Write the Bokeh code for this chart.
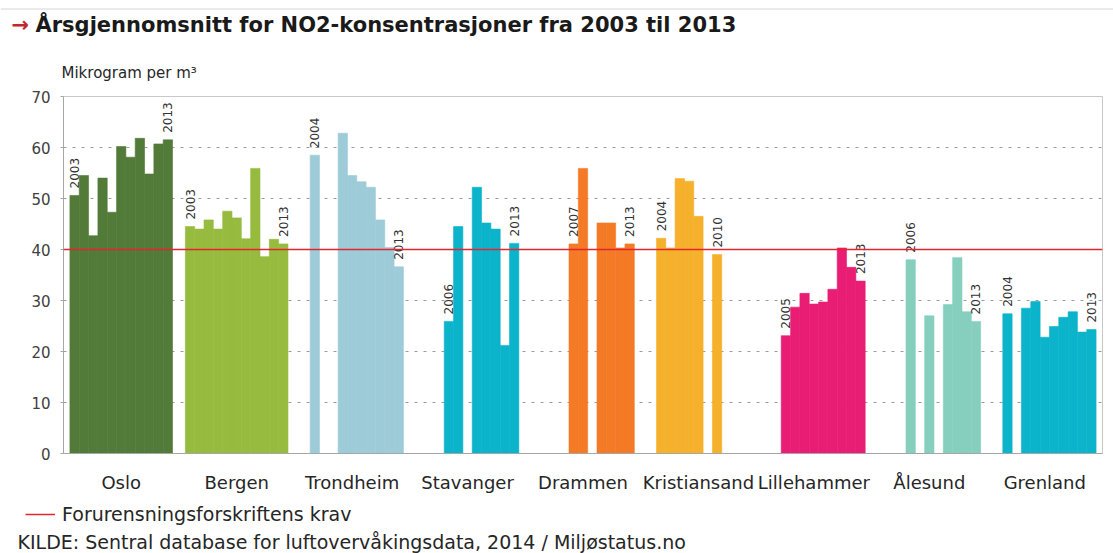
import math
from bokeh.plotting import figure
from bokeh.layouts import column
from bokeh.models import (FactorRange, Range1d, ColumnDataSource, Span,
                          Legend, LegendItem)
from bokeh.transform import dodge
from bokeh.core.properties import value
from bokeh.embed import file_html
from bokeh.resources import INLINE

# ---------------- data ----------------
cities = ["Oslo", "Bergen", "Trondheim", "Stavanger", "Drammen",
          "Kristiansand", "Lillehammer", "Ålesund", "Grenland"]
years = [2003, 2004, 2005, 2006, 2007, 2008, 2009, 2010, 2011, 2012, 2013]

oslo         = [50.6, 54.5, 42.7, 54.0, 47.3, 60.2, 58.1, 61.8, 54.8, 60.7, 61.5]
bergen       = [44.5, 44.0, 45.8, 44.0, 47.5, 46.2, 42.1, 55.9, 38.6, 42.0, 41.1]
trondheim    = [None, 58.5, None, None, 62.8, 54.5, 53.3, 52.2, 45.8, 40.4, 36.6]
stavanger    = [None, None, None, 25.9, 44.5, None, 52.2, 45.2, 44.0, 21.2, 41.2]
drammen      = [None, None, None, None, 41.1, 55.9, None, 45.2, 45.2, 40.3, 41.1]
kristiansand = [None, 42.2, 40.3, 53.9, 53.4, 46.5, None, 39.0, None, None, None]
lillehammer  = [None, None, 23.1, 28.7, 31.4, 29.3, 29.7, 32.2, 40.3, 36.5, 33.8]
alesund      = [None, None, None, 38.0, None, 27.0, None, 29.2, 38.4, 27.8, 25.9]
grenland     = [None, 27.4, None, 28.5, 29.8, 22.8, 24.9, 26.7, 27.8, 23.8, 24.3]

city_colors = ["#527a38", "#97bb3e", "#9ecbd8", "#0bb4cb", "#f47a26",
               "#f5b02c", "#e81d73", "#86cfbf", "#0bb4cb"]

limit_value = 40
y_ticks = [0, 10, 20, 30, 40, 50, 60, 70]

title_text = "Årsgjennomsnitt for NO2-konsentrasjoner fra 2003 til 2013"
unit_text = "Mikrogram per m³"
legend_text = "Forurensningsforskriftens krav"
source_text = "KILDE: Sentral database for luftovervåkingsdata, 2014 / Miljøstatus.no"

series = [oslo, bergen, trondheim, stavanger, drammen,
          kristiansand, lillehammer, alesund, grenland]

FONT = "DejaVu Sans"
RED = "#e3262d"
W = 1113


def no_align(f):
    if "frame_align" in f.properties():
        f.frame_align = False
    return f


def blank(height):
    f = figure(width=W, height=height, x_range=Range1d(0, W),
               y_range=Range1d(height, 0), x_axis_type=None, y_axis_type=None,
               min_border=0, output_backend="svg", toolbar_location=None,
               background_fill_color="white", border_fill_color="white")
    f.outline_line_color = None
    f.grid.grid_line_color = None
    return no_align(f)


# ---------------- header ----------------
head = blank(88)
head.segment(x0=[0], y0=[8.5], x1=[W], y1=[8.5], line_color="#d4d4d4", line_width=1)
head.text(x=[11], y=[24], text=["→"], text_font=value(FONT), text_font_style="bold",
          text_font_size="21px", text_color="#c1272d", text_baseline="middle")
head.text(x=[35], y=[24], text=[title_text], text_font=value(FONT),
          text_font_style="bold", text_font_size="21px", text_color="#1a1a1a",
          text_baseline="middle")
head.text(x=[61], y=[72], text=[unit_text], text_font=value(FONT),
          text_font_size="15px", text_color="#262626", text_baseline="middle")

# ---------------- main chart ----------------
p = figure(x_range=FactorRange(factors=cities, range_padding=0, factor_padding=0),
           y_range=Range1d(0, 70),
           frame_width=1039, frame_height=357,
           min_border_left=63, min_border_right=11,
           min_border_top=8, min_border_bottom=47,
           output_backend="svg", toolbar_location=None,
           background_fill_color="white", border_fill_color="white")
no_align(p)

slot = 0.0808

first_idx = [next(i for i, v in enumerate(s) if v is not None) for s in series]
last_idx = [max(i for i, v in enumerate(s) if v is not None) for s in series]

for j, yr in enumerate(years):
    xs, vals, cols, labs, lvals, lxs = [], [], [], [], [], []
    for c, s, col, fi, li in zip(cities, series, city_colors, first_idx, last_idx):
        v = s[j]
        if v is None:
            continue
        xs.append(c); vals.append(v); cols.append(col)
        if j == fi or j == li:
            labs.append(str(yr)); lvals.append(v); lxs.append(c)
    off = (j - 5) * slot
    if xs:
        src = ColumnDataSource(dict(city=xs, val=vals, color=cols))
        p.vbar(x=dodge("city", off, range=p.x_range), top="val", bottom=0,
               width=slot, fill_color="color", line_color="color",
               line_width=0.6, source=src)
    if labs:
        lsrc = ColumnDataSource(dict(city=lxs, val=lvals, label=labs))
        p.text(x=dodge("city", off, range=p.x_range), y="val", text="label",
               angle=math.pi / 2, text_align="left", text_baseline="middle",
               y_offset=-7, text_font=value(FONT), text_font_size="12px",
               text_color="#333333", source=lsrc)

p.add_layout(Span(location=limit_value, dimension="width",
                  line_color=RED, line_width=1.5))

p.outline_line_color = "#c8c8c8"
p.xgrid.grid_line_color = None
p.ygrid.grid_line_color = "#9a9a9a"
p.ygrid.grid_line_dash = "3 6"
p.ygrid.grid_line_width = 1

p.yaxis.ticker = y_ticks
p.yaxis.axis_line_color = "#a6a6a6"
p.yaxis.major_tick_line_color = "#a6a6a6"
p.yaxis.major_tick_out = 3
p.yaxis.major_tick_in = 0
p.yaxis.minor_tick_line_color = None
p.yaxis.major_label_standoff = 10
p.yaxis.major_label_text_font = FONT
p.yaxis.major_label_text_font_size = "15px"
p.yaxis.major_label_text_color = "#404040"

p.xaxis.axis_line_color = "#a6a6a6"
p.xaxis.major_tick_line_color = None
p.xaxis.major_tick_out = 0
p.xaxis.major_tick_in = 0
p.xaxis.major_label_standoff = 18
p.xaxis.major_label_text_font = FONT
p.xaxis.major_label_text_font_size = "18px"
p.xaxis.major_label_text_color = "#262626"

# ---------------- footer ----------------
foot = blank(53)
swatch = foot.line(x=[-60, -40], y=[-20, -20], line_color=RED, line_width=1.5)
legend = Legend(items=[LegendItem(label=legend_text, renderers=[swatch])],
                location=(25, 28), orientation="horizontal",
                glyph_width=30, glyph_height=16, label_height=16,
                label_standoff=7, padding=0, margin=0, spacing=0,
                border_line_color=None, background_fill_alpha=0,
                label_text_font=FONT, label_text_font_size="19px",
                label_text_color="#262626")
foot.add_layout(legend)
foot.text(x=[17], y=[41], text=[source_text], text_font=value(FONT),
          text_font_size="19px", text_color="#262626", text_baseline="middle")

layout = column(head, p, foot, spacing=0)
open("out.html", "w").write(file_html(layout, INLINE))
